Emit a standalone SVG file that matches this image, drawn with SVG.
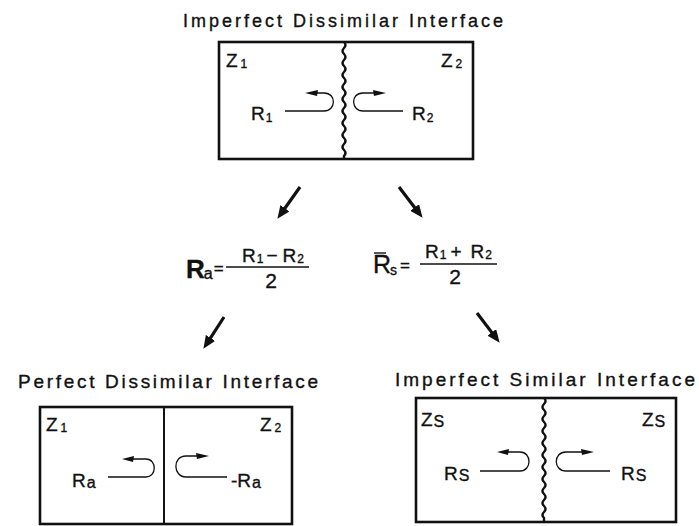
<svg xmlns="http://www.w3.org/2000/svg" width="699" height="526" viewBox="0 0 699 526">
<style>
text{font-family:"Liberation Sans","DejaVu Sans",Arial,sans-serif;fill:#111;stroke:#111;stroke-width:0.35}
.title{font-size:18px}
.box{fill:none;stroke:#111;stroke-width:2.6}
.wave{fill:none;stroke:#111;stroke-width:2.4}
.div{fill:none;stroke:#111;stroke-width:2}
.loop{fill:none;stroke:#111;stroke-width:1.3}
.head{fill:#111}
.z{font-size:19px}
.zs{font-size:12px}
.r{font-size:19px}
.rs{font-size:12px}
.conn{fill:none;stroke:#111;stroke-width:3.2}
.frac{stroke:#111;stroke-width:1.6}
</style>
<defs>
<marker id="ah" markerUnits="userSpaceOnUse" markerWidth="13" markerHeight="11" refX="4" refY="5.5" orient="auto">
<path d="M0 0 L13 5.5 L0 11 z" fill="#111"/>
</marker>
</defs>

<g id="top-node">
<text class="title" x="183" y="27" textLength="320" lengthAdjust="spacing">Imperfect Dissimilar Interface</text>
<rect class="box" x="219" y="42" width="254" height="117"/>
<path class="wave" d="M344 42 q3 3 0 6 t0 6 t0 6 t0 6 t0 6 t0 6 t0 6 t0 6 t0 6 t0 6 t0 6 t0 6 t0 6 t0 6 t0 6 t0 6 t0 6 t0 6 t0 6 L344 159"/>
<text class="z" x="226" y="67">Z<tspan class="zs" dx="3" dy="1">1</tspan></text>
<text class="z" x="441" y="67">Z<tspan class="zs" dx="3" dy="1">2</tspan></text>
<text class="r" x="251" y="120">R<tspan class="rs" dx="1" dy="2">1</tspan></text>
<text class="r" x="412" y="120">R<tspan class="rs" dx="1" dy="2">2</tspan></text>
<path class="loop" d="M285 111 H324 C336 111 337 93 324 93 H315"/>
<path class="head" d="M305 93 L318 90 L317 96 z"/>
<path class="loop" d="M403 111 H363 C351 111 350 93 363 93 H374"/>
<path class="head" d="M386 93 L373 90 L374 96 z"/>
</g>

<g id="formula-a">
<text x="186" y="278" style="font-size:26px;font-weight:bold">R<tspan dx="-1" dy="1" style="font-size:16px;font-weight:normal">a</tspan><tspan dx="1" dy="-5" style="font-size:17px;font-weight:normal">=</tspan></text>
<line class="frac" x1="226" y1="267" x2="309" y2="267"/>
<text class="r" x="242" y="262">R<tspan class="rs" dx="1" dy="1">1</tspan><tspan dx="3" dy="-1">−</tspan><tspan dx="5">R</tspan><tspan class="rs" dx="1" dy="1">2</tspan></text>
<text x="271" y="288" style="font-size:21px" text-anchor="middle">2</text>
</g>

<g id="formula-s">
<text x="373" y="273" style="font-size:25px">R<tspan dx="-1" dy="2" style="font-size:14px">s</tspan><tspan dx="3" dy="-4" style="font-size:17px">=</tspan></text>
<line x1="374" y1="253" x2="386" y2="253" stroke="#111" stroke-width="1.4"/>
<line class="frac" x1="420" y1="264" x2="497" y2="264"/>
<text class="r" x="425" y="258">R<tspan class="rs" dx="1" dy="1">1</tspan><tspan dx="4" dy="-1">+</tspan><tspan dx="9">R</tspan><tspan class="rs" dx="1" dy="1">2</tspan></text>
<text x="455" y="284" style="font-size:21px" text-anchor="middle">2</text>
</g>

<g id="left-node">
<text class="title" x="18" y="388" style="font-size:19px" textLength="300" lengthAdjust="spacing">Perfect Dissimilar Interface</text>
<rect class="box" x="40" y="407" width="252" height="117"/>
<line class="div" x1="164" y1="407" x2="164" y2="524"/>
<text class="z" x="46" y="431">Z<tspan class="zs" dx="3" dy="1">1</tspan></text>
<text class="z" x="260" y="431">Z<tspan class="zs" dx="3" dy="1">2</tspan></text>
<text class="r" x="72" y="487">R<tspan style="font-size:16px" dx="1" dy="1">a</tspan></text>
<text class="r" x="231" y="487">-R<tspan style="font-size:16px" dx="1" dy="1">a</tspan></text>
<path class="loop" d="M108 477 H146 C157 477 157 459 146 459 H132"/>
<path class="head" d="M122 459 L134 456 L133 462 z"/>
<path class="loop" d="M227 477 H186 C173 477 172 456 186 456 H198"/>
<path class="head" d="M209 456 L196 453 L197 459 z"/>
</g>

<g id="right-node">
<text class="title" x="395" y="386" style="font-size:19px" textLength="300" lengthAdjust="spacing">Imperfect Similar Interface</text>
<rect class="box" x="416" y="398" width="260" height="124"/>
<path class="wave" d="M544 398 q3 3 0 6 t0 6 t0 6 t0 6 t0 6 t0 6 t0 6 t0 6 t0 6 t0 6 t0 6 t0 6 t0 6 t0 6 t0 6 t0 6 t0 6 t0 6 t0 6 t0 6 L544 522"/>
<text class="z" x="421" y="426">Z<tspan style="font-size:16px" dx="1" dy="1">S</tspan></text>
<text class="z" x="642" y="426">Z<tspan style="font-size:16px" dx="1" dy="1">S</tspan></text>
<text class="r" x="444" y="480">R<tspan style="font-size:16px" dx="1" dy="1">S</tspan></text>
<text class="r" x="621" y="480">R<tspan style="font-size:16px" dx="1" dy="1">S</tspan></text>
<path class="loop" d="M480 471 H520 C532 471 532 452 520 452 H507"/>
<path class="head" d="M497 452 L509 449 L508 455 z"/>
<path class="loop" d="M610 471 H566 C553 471 553 452 566 452 H582"/>
<path class="head" d="M594 452 L581 449 L582 455 z"/>
</g>

<g id="connectors">
<path class="conn" d="M300 187 L282.6 211.5" marker-end="url(#ah)"/>
<path class="conn" d="M399 187 L417.1 210.7" marker-end="url(#ah)"/>
<path class="conn" d="M224 317 L208.3 341.3" marker-end="url(#ah)"/>
<path class="conn" d="M477 313 L494.2 335.6" marker-end="url(#ah)"/>
</g>
</svg>
